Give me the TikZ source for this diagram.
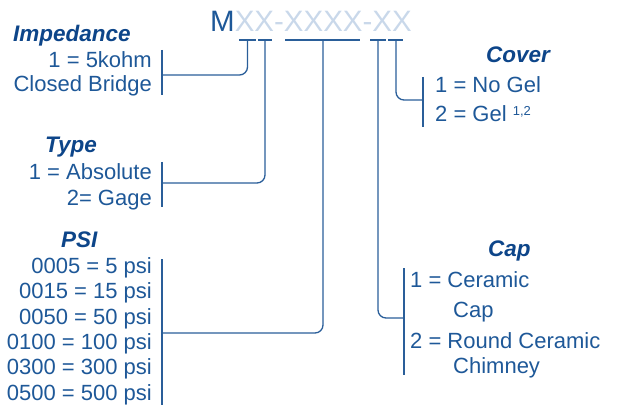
\documentclass[tikz,border=0pt]{standalone}
\usepackage{fontspec}
\setmainfont{Liberation Sans}
\definecolor{tblue}{HTML}{1E5898}
\definecolor{hblue}{HTML}{0D4589}
\definecolor{lblue}{HTML}{C9D8EA}
\definecolor{lineblue}{HTML}{2A5E99}
\begin{document}
\begin{tikzpicture}[x=1pt,y=-1pt,
  txt/.style={inner sep=0pt,text=tblue,font=\fontsize{22}{24}\selectfont},
  rtxt/.style={txt,anchor=base east},
  ltxt/.style={txt,anchor=base west},
  hdr/.style={inner sep=0pt,anchor=base west,text=hblue,font=\fontsize{22.5}{24}\selectfont\bfseries\itshape},
  conn/.style={draw=lineblue,line width=1.3pt,rounded corners=8pt},
  brk/.style={draw=lineblue,line width=1.3pt},
  tick/.style={draw=lineblue,line width=1.3pt}]
\useasboundingbox (0,0) rectangle (626,406);
% title
\node[inner sep=0pt,anchor=base west,font=\fontsize{29.5}{30}\selectfont] (title) at (210,32)
  {\textcolor{tblue}{M}\textcolor{lblue}{XX-XXXX-XX}};
% tick bars
\coordinate (t1a) at (239,40); \coordinate (t1b) at (256,40); \coordinate (t1) at (247.5,40);
\coordinate (t2a) at (258,40); \coordinate (t2b) at (272,40); \coordinate (t2) at (265,40);
\coordinate (t3a) at (285,40); \coordinate (t3b) at (360,40); \coordinate (t3) at (323,40);
\coordinate (t4a) at (370,40); \coordinate (t4b) at (386,40); \coordinate (t4) at (378,40);
\coordinate (t5a) at (388,40); \coordinate (t5b) at (403,40); \coordinate (t5) at (396,40);
\foreach \i in {1,...,5} \draw[tick] (t\i a) -- (t\i b);
% Impedance
\node[hdr] (himp) at (13,42) {Impedance};
\node[rtxt] (imp1) at (152,68) {1 = 5kohm};
\node[rtxt] (imp2) at (152,92) {Closed Bridge};
\coordinate (bimpT) at (162,50); \coordinate (bimpB) at (162,95); \coordinate (bimp) at (162,75);
\draw[brk] (bimpT) -- (bimpB);
\draw[conn] (t1) |- (bimp);
% Type
\node[hdr] (htype) at (45,153) {Type};
\node[rtxt] (type1) at (152,180) {1 = Absolute};
\node[rtxt] (type2) at (152,205) {2= Gage};
\coordinate (btypeT) at (162,162); \coordinate (btypeB) at (162,207); \coordinate (btype) at (162,183);
\draw[brk] (btypeT) -- (btypeB);
\draw[conn] (t2) |- (btype);
% PSI
\node[hdr] (hpsi) at (61,247) {PSI};
\node[rtxt] (p1) at (152,273.3) {0005 = 5 psi};
\node[rtxt] (p2) at (152,298.7) {0015 = 15 psi};
\node[rtxt] (p3) at (152,324) {0050 = 50 psi};
\node[rtxt] (p4) at (152,349.4) {0100 = 100 psi};
\node[rtxt] (p5) at (152,374.8) {0300 = 300 psi};
\node[rtxt] (p6) at (152,400) {0500 = 500 psi};
\coordinate (bpsiT) at (162,259); \coordinate (bpsiB) at (162,405); \coordinate (bpsi) at (162,333);
\draw[brk] (bpsiT) -- (bpsiB);
\draw[conn] (t3) |- (bpsi);
% Cover
\node[hdr] (hcov) at (486,63) {Cover};
\node[ltxt] (c1) at (435,93) {1 = No Gel};
\node[ltxt] (c2) at (435,122) {2 = Gel \raisebox{6.5pt}{\fontsize{13}{13}\selectfont 1,2}};
\coordinate (bcovT) at (423,77); \coordinate (bcovB) at (423,127); \coordinate (bcov) at (423,100);
\draw[brk] (bcovT) -- (bcovB);
\draw[conn] (t5) |- (bcov);
% Cap
\node[hdr] (hcap) at (488,256) {Cap};
\node[ltxt] (k1) at (410,287) {1 = Ceramic};
\node[ltxt] (k1b) at (453,317) {Cap};
\node[ltxt] (k2) at (410,348) {2 = Round Ceramic};
\node[ltxt] (k2b) at (453,373) {Chimney};
\coordinate (bcapT) at (404,268); \coordinate (bcapB) at (404,375); \coordinate (bcap) at (404,318);
\draw[brk] (bcapT) -- (bcapB);
\draw[conn] (t4) |- (bcap);
\end{tikzpicture}
\end{document}
